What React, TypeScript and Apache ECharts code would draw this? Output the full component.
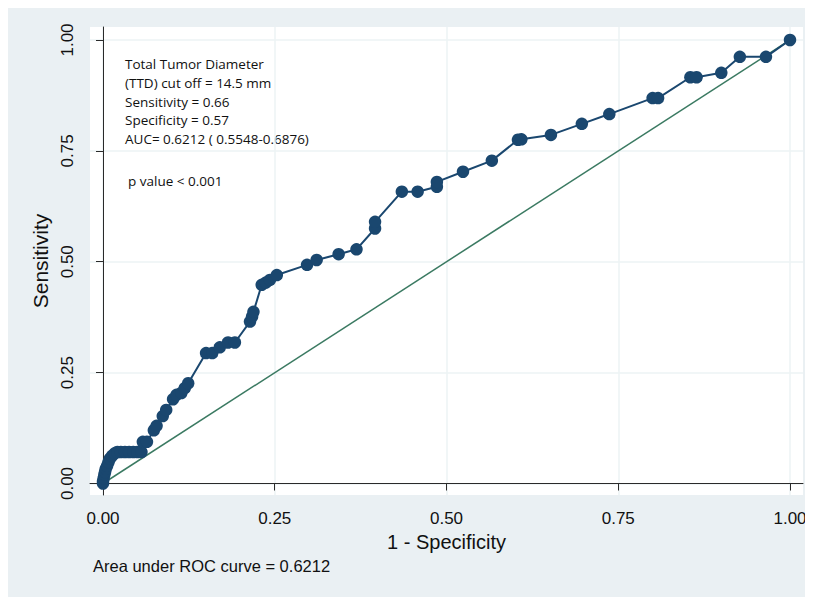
import React, { useEffect, useRef } from "react";
import * as echarts from "echarts";

const rocX = [0, 0, 0.001, 0.002, 0.003, 0.004, 0.006, 0.008, 0.01, 0.013, 0.017, 0.021, 0.026, 0.032, 0.038, 0.044, 0.05, 0.056, 0.058, 0.064, 0.074, 0.078, 0.087, 0.092, 0.102, 0.107, 0.114, 0.119, 0.124, 0.15, 0.159, 0.17, 0.182, 0.192, 0.214, 0.217, 0.219, 0.231, 0.237, 0.243, 0.253, 0.297, 0.311, 0.343, 0.369, 0.396, 0.396, 0.435, 0.458, 0.486, 0.486, 0.524, 0.566, 0.604, 0.609, 0.652, 0.697, 0.737, 0.8, 0.808, 0.855, 0.864, 0.9, 0.927, 0.965, 1];
const rocY = [0, 0.005, 0.012, 0.02, 0.026, 0.033, 0.04, 0.048, 0.056, 0.062, 0.068, 0.071, 0.071, 0.071, 0.071, 0.071, 0.071, 0.071, 0.094, 0.094, 0.12, 0.13, 0.152, 0.166, 0.19, 0.2, 0.204, 0.215, 0.226, 0.294, 0.294, 0.307, 0.318, 0.318, 0.365, 0.376, 0.387, 0.448, 0.453, 0.459, 0.47, 0.493, 0.504, 0.517, 0.528, 0.575, 0.59, 0.658, 0.658, 0.669, 0.68, 0.703, 0.728, 0.775, 0.776, 0.786, 0.811, 0.833, 0.869, 0.869, 0.916, 0.916, 0.926, 0.962, 0.962, 1];
const refX = [0, 1];
const refY = [0, 1];
const tickValues = [0, 0.25, 0.5, 0.75, 1];
const annotationLines = [
  "Total Tumor Diameter",
  "(TTD) cut off = 14.5 mm",
  "Sensitivity = 0.66",
  "Specificity = 0.57",
  "AUC= 0.6212 ( 0.5548-0.6876)",
];
const pValueText = "p value < 0.001";
const footnote = "Area under ROC curve = 0.6212";
const xTitle = "1 - Specificity";
const yTitle = "Sensitivity";

const AXIS_FONT = "'Liberation Sans', Arial, sans-serif";
const NOTE_FONT = "'Open Sans', 'Noto Sans', sans-serif";

export default function App() {
  const ref = useRef<HTMLDivElement>(null);
  useEffect(() => {
    if (!ref.current) return;
    const chart = echarts.init(ref.current, undefined, { renderer: "svg" });
    const roc = rocX.map((x, i) => [x, rocY[i]]);
    const diag = refX.map((x, i) => [x, refY[i]]);
    const axisCommon = {
      type: "value" as const,
      axisLine: { show: true, lineStyle: { color: "#2a2a2a", width: 1 } },
      axisTick: { show: true, inside: false, length: 7, customValues: tickValues, lineStyle: { color: "#2a2a2a", width: 1 } },
      splitLine: { show: true, lineStyle: { color: "#edf3f5", width: 1.5 } },
    };
    chart.setOption({
      animation: false,
      backgroundColor: "#eaf0f3",
      grid: { left: 82, top: 19, right: 10, bottom: 102, show: true, backgroundColor: "#ffffff", borderWidth: 0 },
      xAxis: {
        ...axisCommon,
        min: -0.01892,
        max: 1.01892,
        name: xTitle,
        nameLocation: "middle",
        nameGap: 35,
        nameTextStyle: { fontFamily: AXIS_FONT, fontSize: 20, color: "#111" },
        axisLabel: { customValues: tickValues, formatter: (v: number) => v.toFixed(2), fontFamily: AXIS_FONT, fontSize: 17, color: "#111", margin: 15 },
      },
      yAxis: {
        ...axisCommon,
        min: -0.02593,
        max: 1.02931,
        name: yTitle,
        nameLocation: "middle",
        nameGap: 36,
        nameTextStyle: { fontFamily: AXIS_FONT, fontSize: 21, color: "#111" },
        axisLabel: { customValues: tickValues, rotate: 90, formatter: (v: number) => v.toFixed(2), fontFamily: AXIS_FONT, fontSize: 17, color: "#111", margin: 14 },
      },
      series: [
        {
          type: "line",
          data: diag,
          symbol: "none",
          lineStyle: { color: "#3b7a62", width: 1.5 },
          silent: true,
          z: 2,
        },
        {
          type: "line",
          data: roc,
          symbol: "circle",
          symbolSize: 12.5,
          itemStyle: { color: "#1a476f" },
          lineStyle: { color: "#1a476f", width: 2 },
          z: 3,
        },
      ],
      graphic: [
        ...annotationLines.map((t, i) => ({
          type: "text",
          left: 117,
          top: 49 + i * 18.8,
          style: { text: t, fontFamily: NOTE_FONT, fontSize: 13.5, fill: "#111" },
        })),
        {
          type: "text",
          left: 120,
          top: 166,
          style: { text: pValueText, fontFamily: NOTE_FONT, fontSize: 13.5, fill: "#111" },
        },
        {
          type: "text",
          left: 85,
          top: 549,
          style: { text: footnote, fontFamily: AXIS_FONT, fontSize: 16.5, fill: "#111" },
        },
      ],
    });
    return () => chart.dispose();
  }, []);
  return <div ref={ref} style={{ width: 805, height: 589 }} />;
}
